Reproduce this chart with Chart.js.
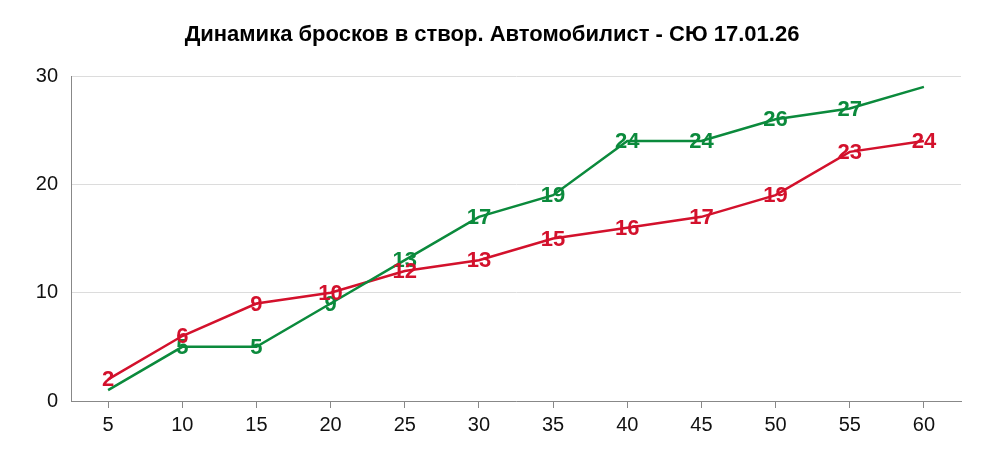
<!DOCTYPE html>
<html><head><meta charset="utf-8">
<script src="https://cdn.jsdelivr.net/npm/chart.js@4/dist/chart.umd.min.js"></script>
<style>html,body{margin:0;padding:0;background:#fff}#wrap{width:984px;height:460px}</style>
</head><body><div id="wrap"><canvas id="c"></canvas></div>
<script>
const titleText = 'Динамика бросков в створ. Автомобилист - СЮ 17.01.26';
const minutes = ['5','10','15','20','25','30','35','40','45','50','55','60'];
const greenShots = [1,5,5,9,13,17,19,24,24,26,27,29];
const redShots = [2,6,9,10,12,13,15,16,17,19,23,24];
const greenHiddenLabels = [0,11];
const yTicks = [0,10,20,30];
const GREEN = '#0b8a3c', RED = '#d3112c';

const labelPlugin = {
  id: 'pointLabels',
  afterDatasetsDraw(chart) {
    const ctx = chart.ctx;
    ctx.save();
    ctx.font = 'bold 22px "Liberation Sans", Arial, sans-serif';
    ctx.textAlign = 'center';
    ctx.textBaseline = 'middle';
    chart.data.datasets.forEach((ds, di) => {
      const meta = chart.getDatasetMeta(di);
      ctx.fillStyle = ds.borderColor;
      meta.data.forEach((pt, i) => {
        if (ds.hiddenLabels && ds.hiddenLabels.includes(i)) return;
        ctx.fillText(String(ds.data[i]), pt.x, pt.y + 1);
      });
    });
    ctx.restore();
  }
};

const titlePlugin = {
  id: 'centerTitle',
  afterDraw(chart) {
    const ctx = chart.ctx;
    ctx.save();
    ctx.font = 'bold 22px "Liberation Sans", Arial, sans-serif';
    ctx.fillStyle = '#000';
    ctx.textAlign = 'center';
    ctx.textBaseline = 'middle';
    ctx.fillText(titleText, chart.width / 2, 35);
    ctx.restore();
  }
};

new Chart(document.getElementById('c'), {
  type: 'line',
  data: {
    labels: minutes,
    datasets: [
      {label: 'Автомобилист', data: greenShots, borderColor: GREEN, borderWidth: 2.5, pointRadius: 0, tension: 0, hiddenLabels: greenHiddenLabels},
      {label: 'СЮ', data: redShots, borderColor: RED, borderWidth: 2.5, pointRadius: 0, tension: 0, hiddenLabels: []}
    ]
  },
  options: {
    responsive: true, maintainAspectRatio: false, animation: false,
    layout: {padding: {left: 0, right: 23, top: 76, bottom: 0}},
    plugins: {
      legend: {display: false},
      tooltip: {enabled: false},
      title: {display: false}
    },
    scales: {
      x: {
        offset: true,
        grid: {display: true, drawOnChartArea: false, drawTicks: true, tickLength: 7, color: '#888', offset: false},
        border: {display: true, color: '#888', width: 1},
        ticks: {color: '#111', font: {family: '"Liberation Sans", Arial, sans-serif', size: 20}, padding: 5, maxRotation: 0},
        afterFit(s) { s.height = 59; }
      },
      y: {
        min: 0, max: 30,
        afterBuildTicks(s) { s.ticks = yTicks.map(v => ({value: v})); },
        grid: {color: '#dcdcdc', drawTicks: false},
        border: {display: true, color: '#888', width: 1},
        ticks: {color: '#111', font: {family: '"Liberation Sans", Arial, sans-serif', size: 20}, padding: 13},
        afterFit(s) { s.width = 71; }
      }
    }
  },
  plugins: [labelPlugin, titlePlugin]
});
</script></body></html>
